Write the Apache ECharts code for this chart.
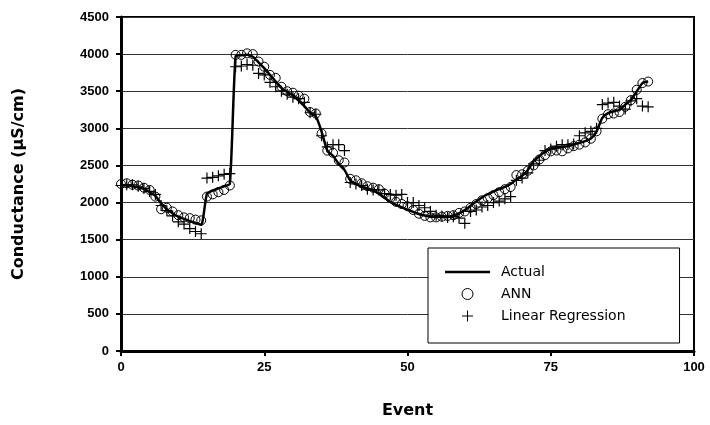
<!DOCTYPE html>
<html>
<head>
<meta charset="utf-8">
<script src="https://cdn.jsdelivr.net/npm/echarts@6/dist/echarts.min.js"></script>
<style>
  html, body { margin: 0; padding: 0; background: #fff; }
  #chart { width: 710px; height: 425px; }
</style>
</head>
<body>
<div id="chart"></div>
<script>
var xTicks = [0, 25, 50, 75, 100];
var yTicks = [0, 500, 1000, 1500, 2000, 2500, 3000, 3500, 4000, 4500];

// conductance per event, event index starts at 0
var actual = [
  2240, 2230, 2220, 2205, 2185, 2140, 2090, 1990, 1910, 1855, 1810, 1780, 1750, 1725, 1700,
  2120, 2160, 2190, 2220, 2250,
  3970, 3985, 3990, 3965, 3890, 3810, 3720, 3630, 3545, 3490, 3445, 3375, 3300, 3210, 3160,
  2960, 2700, 2630, 2520, 2440, 2300, 2250, 2215, 2190, 2160, 2120, 2065, 2010, 1970, 1935,
  1905, 1875, 1845, 1825, 1810, 1808, 1808, 1810, 1822, 1853, 1898, 1956, 2014, 2068, 2112,
  2148, 2180, 2211, 2250, 2310, 2360, 2440, 2560, 2625, 2685, 2730, 2738, 2747, 2760, 2782,
  2805, 2827, 2863, 2960, 3140, 3205, 3230, 3250, 3318, 3385, 3497, 3609, 3630
];
var ann = [
  2250, 2260, 2240, 2230, 2200, 2170, 2080, 1910, 1930, 1880, 1830, 1800, 1790, 1770, 1760,
  2080, 2110, 2140, 2170, 2230,
  3990, 3990, 4010, 4000, 3900, 3830, 3720, 3680, 3560, 3500, 3480, 3440, 3400, 3220, 3200,
  2930, 2700, 2670, 2570, 2540, 2320, 2300, 2260, 2220, 2200, 2180, 2120, 2060, 2010, 1980,
  1950, 1900, 1850, 1820, 1800, 1800, 1810, 1820, 1830, 1860, 1880, 1930, 1980, 2030, 2060,
  2100, 2140, 2180, 2210, 2370, 2380, 2430, 2500, 2580, 2640, 2690, 2700, 2690, 2730, 2760,
  2780, 2810, 2860, 2960, 3130, 3190, 3200, 3220, 3290, 3380, 3520, 3610, 3630
];
var linreg = [
  2230, 2240, 2240, 2220, 2190, 2150, 2110, 1960, 1890, 1820, 1740, 1710, 1650, 1610, 1580,
  2330, 2340, 2360, 2380, 2390,
  3830, 3840, 3860, 3850, 3740, 3720, 3620, 3560, 3500, 3460, 3420, 3400, 3350, 3210, 3190,
  2900, 2750, 2780, 2780, 2700, 2270, 2250, 2230, 2180, 2170, 2170, 2120, 2110, 2100, 2110,
  2000, 2000, 1960, 1930, 1880, 1830, 1820, 1800, 1810, 1790, 1720, 1880, 1900, 1940, 1960,
  2000, 2020, 2050, 2080, 2300, 2330, 2400, 2520, 2570, 2700, 2720, 2760, 2780, 2780, 2790,
  2900, 2940, 2960, 3000, 3320, 3340, 3350, 3300, 3260, 3370, 3400, 3300, 3290
];

function pairs(arr) {
  return arr.map(function(v, i) { return [i, v]; });
}

var plusPath = 'path://M5,0L5,10M0,5L10,5';
var barPath = 'path://M0,0L45,0L45,2.5L0,2.5Z';
var labelFont = { color: '#000', fontWeight: 'bold', fontSize: 13, fontFamily: 'Liberation Sans' };

var chart = echarts.init(document.getElementById('chart'), null, { renderer: 'canvas' });

chart.setOption({
  animation: false,
  backgroundColor: '#fff',
  grid: {
    left: 121, right: 16, top: 17, bottom: 74,
    show: true, borderColor: '#000', borderWidth: 2, backgroundColor: 'transparent'
  },
  legend: {
    orient: 'vertical',
    left: 428, top: 248,
    backgroundColor: '#fff',
    borderColor: '#000', borderWidth: 1,
    padding: [17, 54, 20, 17],
    itemWidth: 45, itemHeight: 11, itemGap: 8,
    textStyle: { color: '#000', fontSize: 14, fontFamily: 'DejaVu Sans', padding: [0, 0, 0, 6] },
    data: [
      { name: 'Actual', icon: barPath, itemStyle: { color: '#000', borderWidth: 0 } },
      { name: 'ANN', icon: 'circle', itemStyle: { color: 'transparent', borderColor: '#000', borderWidth: 1 } },
      { name: 'Linear Regression', icon: plusPath, itemStyle: { color: 'transparent', borderColor: '#000', borderWidth: 1 } }
    ]
  },
  xAxis: {
    type: 'value', min: 0, max: 100, interval: 25,
    name: 'Event', nameLocation: 'middle', nameGap: 52,
    nameTextStyle: { color: '#000', fontWeight: 'bold', fontSize: 16, fontFamily: 'DejaVu Sans' },
    axisLine: { lineStyle: { color: '#000', width: 3 } },
    axisTick: { show: true, length: 5, lineStyle: { color: '#000', width: 2 } },
    axisLabel: Object.assign({ margin: 10, formatter: function(v) { return xTicks.indexOf(v) >= 0 ? String(v) : ''; } }, labelFont),
    splitLine: { show: false }
  },
  yAxis: {
    type: 'value', min: 0, max: 4500, interval: 500,
    name: 'Conductance (µS/cm)', nameLocation: 'middle', nameGap: 94, nameRotate: 90,
    nameTextStyle: { color: '#000', fontWeight: 'bold', fontSize: 16, fontFamily: 'DejaVu Sans' },
    axisLine: { lineStyle: { color: '#000', width: 3 } },
    axisTick: { show: true, length: 5, lineStyle: { color: '#000', width: 2 } },
    axisLabel: Object.assign({ margin: 12, formatter: function(v) { return yTicks.indexOf(v) >= 0 ? String(v) : ''; } }, labelFont),
    splitLine: { lineStyle: { color: '#333', width: 1 } }
  },
  series: [
    {
      name: 'Actual', type: 'line', data: pairs(actual),
      symbol: 'none', smooth: 0.2,
      lineStyle: { color: '#000', width: 2.5 },
      itemStyle: { color: '#000' },
      z: 3
    },
    {
      name: 'ANN', type: 'scatter', data: pairs(ann),
      symbol: 'circle', symbolSize: 9,
      itemStyle: { color: 'transparent', borderColor: '#000', borderWidth: 1, opacity: 1 },
      emphasis: { disabled: true },
      z: 4
    },
    {
      name: 'Linear Regression', type: 'scatter', data: pairs(linreg),
      symbol: plusPath, symbolSize: 11,
      itemStyle: { color: 'transparent', borderColor: '#000', borderWidth: 1.2, opacity: 1 },
      emphasis: { disabled: true },
      z: 4
    }
  ]
});
</script>
</body>
</html>
